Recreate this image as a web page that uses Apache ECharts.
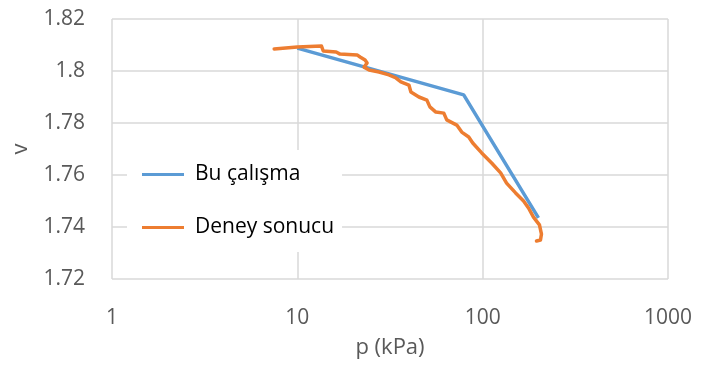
<!DOCTYPE html>
<html>
<head>
<meta charset="utf-8">
<title>p - v</title>
<script src="https://cdn.jsdelivr.net/npm/echarts@6/dist/echarts.min.js"></script>
<style>
	html, body { margin: 0; padding: 0; background: #fff; }
	#chart { width: 701px; height: 365px; }
</style>
</head>
<body>
	<div id="chart"></div>
	<script type="text/javascript">
		// Bu çalışma
		var bluePressure = [10, 79, 200];
		var blueVoid = [1.8088, 1.7908, 1.7435];

		// Deney sonucu
		var orangePressure = [7.5, 10, 13.5, 13.8, 16.2, 17.0, 21.0, 21.8, 23.2, 23.8, 22.9, 24.4, 27.6, 31.2, 34.1, 36.2, 40.0, 41.0, 45.3, 50.0, 51.9, 55.9, 61.7, 64.0, 72.5, 77.1, 84.1, 88.4, 98.8, 111.8, 125.0, 134.6, 150.5, 166.2, 176.7, 188.0, 202.5, 207.6, 205.1, 195.2];
		var orangeVoid = [1.8085, 1.8092, 1.8096, 1.8077, 1.8073, 1.8065, 1.8062, 1.8054, 1.8042, 1.8031, 1.8015, 1.8004, 1.7996, 1.7985, 1.7973, 1.7958, 1.7946, 1.7919, 1.7900, 1.7888, 1.7862, 1.7842, 1.7838, 1.7812, 1.7792, 1.7765, 1.7746, 1.7723, 1.7685, 1.7646, 1.7608, 1.7569, 1.7531, 1.7500, 1.7473, 1.7438, 1.7408, 1.7373, 1.7350, 1.7346];

		var seriesNames = ['Bu çalışma', 'Deney sonucu'];

		function pairs(xs, ys) {
			var out = [];
			for (var i = 0; i < xs.length; i++) {
				out.push([xs[i], ys[i]]);
			}
			return out;
		}

		var fontFamily = '"Open Sans", sans-serif';

		var option = {
			animation : false,
			grid : {
				left : 112,
				right : 33,
				top : 19,
				bottom : 86
			},
			legend : {
				orient : 'vertical',
				left : 127,
				top : 150,
				backgroundColor : '#ffffff',
				padding : [14, 8, 14, 15],
				itemWidth : 42,
				itemHeight : 3,
				itemGap : 32,
				icon : 'rect',
				textStyle : {
					fontFamily : fontFamily,
					fontSize : 21,
					color : '#000000',
					padding : [0, 0, 0, 6]
				},
				data : seriesNames
			},
			xAxis : {
				type : 'log',
				logBase : 10,
				min : 1,
				max : 1000,
				name : 'p (kPa)',
				nameLocation : 'middle',
				nameGap : 58,
				nameTextStyle : {
					fontFamily : fontFamily,
					fontSize : 22,
					color : '#595959'
				},
				axisLine : { show : false },
				axisTick : { show : false },
				minorTick : { show : false },
				axisLabel : {
					margin : 29,
					fontFamily : fontFamily,
					fontSize : 21,
					color : '#595959',
					showMinLabel : true,
					showMaxLabel : true,
					formatter : function (val) {
						return String(Math.round(val));
					}
				},
				splitLine : {
					show : true,
					lineStyle : { color : '#d9d9d9', width : 1.5 }
				}
			},
			yAxis : {
				type : 'value',
				min : 1.72,
				max : 1.82,
				interval : 0.02,
				name : 'v',
				nameLocation : 'middle',
				nameGap : 80,
				nameTextStyle : {
					fontFamily : fontFamily,
					fontSize : 22,
					color : '#595959'
				},
				axisLine : { show : false },
				axisTick : { show : false },
				axisLabel : {
					margin : 27,
					fontFamily : fontFamily,
					fontSize : 21,
					color : '#595959'
				},
				splitLine : {
					show : true,
					lineStyle : { color : '#d9d9d9', width : 1.5 }
				}
			},
			series : [ {
				name : seriesNames[0],
				type : 'line',
				symbol : 'none',
				color : '#5b9bd5',
				lineStyle : { width : 3.5, color : '#5b9bd5' },
				data : pairs(bluePressure, blueVoid),
				z : 2
			}, {
				name : seriesNames[1],
				type : 'line',
				symbol : 'none',
				color : '#ed7d31',
				lineStyle : { width : 3.5, color : '#ed7d31', join : 'round', cap : 'round' },
				data : pairs(orangePressure, orangeVoid),
				z : 3
			} ]
		};

		var chart = echarts.init(document.getElementById('chart'));
		chart.setOption(option);
	</script>
</body>
</html>
